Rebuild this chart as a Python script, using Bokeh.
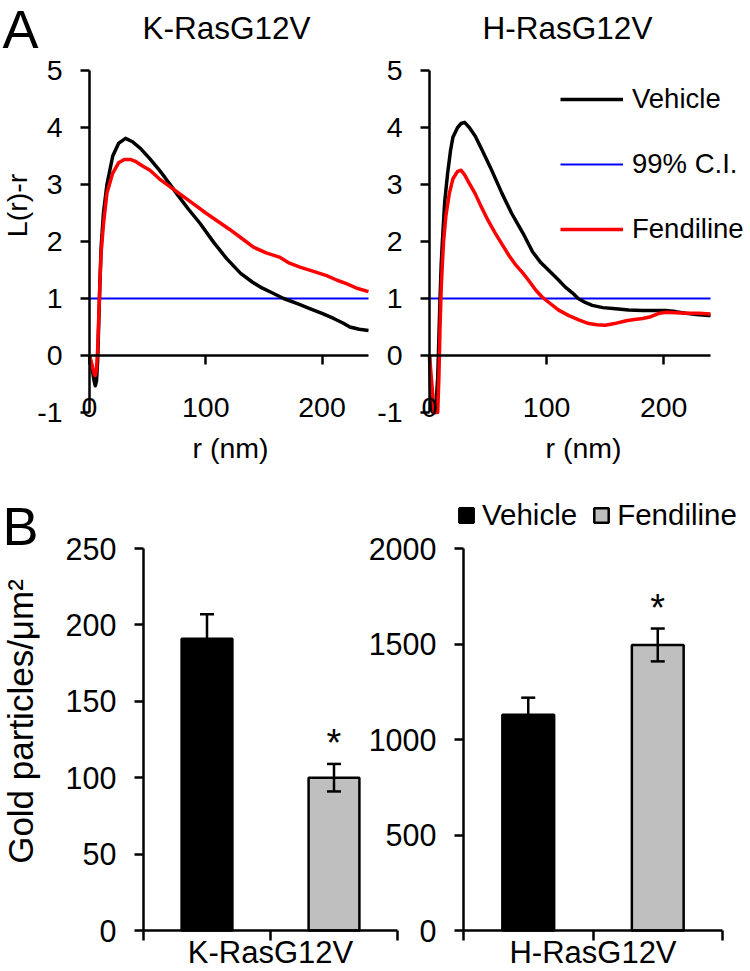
import math
from bokeh.plotting import figure
from bokeh.models import (Range1d, LinearAxis, FixedTicker, Label, Legend, LegendItem,
                          Whisker, ColumnDataSource, TeeHead)
from bokeh.layouts import column, row
from bokeh.embed import file_html
from bokeh.resources import INLINE
from bokeh.core.properties import value

# ---------------- Panel A data: L(r)-r curves ----------------
k_veh_r = [0, 2, 4, 5, 6, 7, 8, 9, 10, 12, 15, 20, 25, 31, 37, 44, 52, 59, 65, 70,
           75, 85, 95, 107, 118, 130, 140, 147, 157, 167, 180, 190, 200, 210, 218, 224, 232, 240]
k_veh_L = [0, -0.2, -0.45, -0.53, -0.45, -0.1, 0.6, 1.3, 1.9, 2.5, 3.0, 3.5, 3.72, 3.81, 3.75, 3.63, 3.45, 3.28, 3.12, 2.98,
           2.84, 2.57, 2.32, 1.98, 1.7, 1.44, 1.29, 1.2, 1.1, 1.0, 0.9, 0.82, 0.74, 0.65, 0.57, 0.5, 0.46, 0.44]

k_fen_r = [0, 2, 4, 5, 6, 7, 8, 9, 10, 12, 15, 20, 25, 30, 35, 40, 46, 52, 60, 70,
           80, 90, 100, 110, 120, 130, 141, 152, 164, 172, 181, 192, 204, 213, 221, 230, 240]
k_fen_L = [0, -0.15, -0.32, -0.35, -0.25, 0.1, 0.7, 1.3, 1.8, 2.3, 2.85, 3.2, 3.38, 3.44, 3.44, 3.4, 3.32, 3.25, 3.1, 2.95,
           2.8, 2.65, 2.5, 2.36, 2.22, 2.07, 1.9, 1.8, 1.72, 1.62, 1.55, 1.48, 1.4, 1.32, 1.26, 1.18, 1.12]

h_veh_r = [0, 1, 2, 3, 5, 7, 8, 9, 10, 11, 13, 15.5, 18, 20, 24, 27, 30, 34, 39, 45,
           52, 62, 70, 80, 88, 95, 102, 110, 116, 122, 127, 133, 139, 148, 159, 170, 182, 192, 202, 210,
           219, 228, 238, 240]
h_veh_L = [0, -0.6, -0.95, -1.0, -1.0, -0.4, 0.3, 1.0, 1.6, 2.0, 2.7, 3.2, 3.6, 3.83, 4.0, 4.07, 4.09, 4.0, 3.85, 3.6,
           3.3, 2.84, 2.5, 2.14, 1.82, 1.63, 1.49, 1.33, 1.2, 1.1, 1.0, 0.93, 0.88, 0.84, 0.82, 0.8, 0.79, 0.79, 0.79, 0.77,
           0.74, 0.72, 0.7, 0.7]

h_fen_r = [0, 2, 4, 7, 8, 9, 10, 12, 14, 17, 20, 24, 27, 30, 34, 39, 44, 50, 56, 62,
           68, 74, 80, 86, 91, 96, 102, 110, 119, 128, 136, 143, 150, 158, 168, 175, 182, 189, 196, 203,
           210, 220, 230, 240]
h_fen_L = [0, -0.5, -1.0, -1.0, -0.4, 0.5, 1.2, 2.0, 2.45, 2.85, 3.1, 3.23, 3.25, 3.17, 3.02, 2.84, 2.62, 2.37, 2.15, 1.95,
           1.75, 1.58, 1.44, 1.28, 1.14, 1.03, 0.93, 0.8, 0.7, 0.62, 0.56, 0.54, 0.53, 0.56, 0.61, 0.63, 0.65, 0.68, 0.74, 0.76,
           0.75, 0.74, 0.74, 0.73]

ci_level = 1.0
r_min, r_max = 0, 240
a_y_min, a_y_max = -1, 5
a_y_ticks = [-1, 0, 1, 2, 3, 4, 5]
a_x_ticks = [0, 100, 200]
series_labels = ["Vehicle", "99% C.I.", "Fendiline"]

# ---------------- Panel B data: gold particle density ----------------
treatments = ["Vehicle", "Fendiline"]
constructs = ["K-RasG12V", "H-RasG12V"]
k_density = [191, 100]
k_sem = [16, 9]
h_density = [1130, 1495]
h_sem = [89, 86]
k_signif = [False, True]
h_signif = [False, True]
k_ticks = [0, 50, 100, 150, 200, 250]
h_ticks = [0, 500, 1000, 1500, 2000]

# ---------------- styling helpers ----------------
FONT = "Liberation Sans"
s = 1.0


def S(v):
    return int(round(v * s))


def F(v):
    return f"{v * s:.1f}px"


AXW = 2.5
BLACK = "black"
RED = "#ff0000"
BLUE = "#0000ff"
GRAY = "#bfbfbf"


def style_axis(ax, size, standoff, tick_out):
    ax.axis_line_color = BLACK
    ax.axis_line_width = AXW
    ax.major_tick_line_color = BLACK
    ax.major_tick_line_width = AXW
    ax.major_tick_out = S(tick_out)
    ax.major_tick_in = 0
    ax.minor_tick_line_color = None
    ax.major_label_text_font = FONT
    ax.major_label_text_font_size = F(size)
    ax.major_label_text_color = BLACK
    ax.major_label_standoff = S(standoff) if standoff >= 0 else -S(-standoff)


def span_range(dmin, dmax, pmin, pmax, fig_len):
    """Range whose [dmin, dmax] lands on pixels [pmin, pmax] of a canvas fig_len long."""
    k = (pmax - pmin) / (dmax - dmin)
    return Range1d(dmin - pmin / k, dmax + (fig_len - pmax) / k)


def make_fig(w, h, xr, yr):
    p = figure(width=S(w), height=S(h), x_range=xr, y_range=yr, title=None,
               x_axis_location=None, y_axis_location=None,
               output_backend="svg", toolbar_location=None,
               min_border_left=0, min_border_right=0, min_border_top=0, min_border_bottom=0)
    p.outline_line_color = None
    p.grid.visible = False
    p.background_fill_color = "white"
    p.border_fill_color = "white"
    return p


def add_label(p, text, x, y, size, align="left", angle=0.0, baseline="alphabetic"):
    if baseline == "alphabetic":
        y = y + 0.4 * size   # renderer drops alphabetic-anchored text by ~0.4 em
    p.add_layout(Label(x=S(x), y=S(y), x_units="screen", y_units="screen", text=text,
                       text_font=FONT, text_font_size=F(size), text_color=BLACK,
                       text_align=align, text_baseline=baseline, angle=angle))


# ---------------- Panel A ----------------
TOP_H = 470          # reference px
A_TOP, A_BOT = 70, 412


def panel_a(x0, w, fl, fr, title, title_x, veh_r, veh_L, fen_r, fen_L, rnm_x):
    xr = span_range(r_min, r_max, fl - x0, fr - x0, w)
    yr = span_range(a_y_min, a_y_max, TOP_H - A_BOT, TOP_H - A_TOP, TOP_H)
    p = make_fig(w, TOP_H, xr, yr)

    r_ci = p.line([r_min, r_max], [ci_level, ci_level], line_color=BLUE, line_width=2)
    r_v = p.line(veh_r, veh_L, line_color=BLACK, line_width=3.5, line_join="round")
    r_f = p.line(fen_r, fen_L, line_color=RED, line_width=3.5, line_join="round")

    yax = LinearAxis(fixed_location=r_min, bounds=(a_y_min, a_y_max), ticker=FixedTicker(ticks=a_y_ticks),
                     major_label_overrides={t: str(t) for t in a_y_ticks})
    style_axis(yax, 28.5, 18, 9)
    p.add_layout(yax, "left")

    zero_ax = LinearAxis(fixed_location=0, bounds=(r_min, r_max), ticker=FixedTicker(ticks=a_x_ticks))
    style_axis(zero_ax, 28.5, 0, 9)
    zero_ax.major_label_text_color = None
    p.add_layout(zero_ax, "below")

    lab_ax = LinearAxis(fixed_location=a_y_min, bounds=(r_min, r_max), ticker=FixedTicker(ticks=a_x_ticks))
    style_axis(lab_ax, 28.5, -15, 0)
    lab_ax.axis_line_color = None
    lab_ax.major_tick_line_color = None
    p.add_layout(lab_ax, "below")

    add_label(p, title, title_x - x0, TOP_H - 40, 31.5, align="center")
    add_label(p, "r (nm)", rnm_x - x0, TOP_H - 458, 28.5, align="center")
    return p, (r_v, r_ci, r_f)


p1, _ = panel_a(0, 375, 89, 368, constructs[0], 226, k_veh_r, k_veh_L, k_fen_r, k_fen_L, 230)
p2, (rv2, rci2, rf2) = panel_a(375, 375, 429, 710, constructs[1], 567.5, h_veh_r, h_veh_L, h_fen_r, h_fen_L, 583)

add_label(p1, "A", 2, TOP_H - 50, 54)
add_label(p1, "L(r)-r", 16, TOP_H - 205, 28.5, align="center", angle=math.pi / 2, baseline="middle")

leg_a = Legend(items=[LegendItem(label=series_labels[0], renderers=[rv2]),
                      LegendItem(label=series_labels[1], renderers=[rci2]),
                      LegendItem(label=series_labels[2], renderers=[rf2])],
               location=(S(560 - 375), S(TOP_H - 245)), orientation="vertical",
               glyph_width=S(63), glyph_height=S(32), label_height=S(32), spacing=S(33),
               label_standoff=S(9), padding=0, margin=0,
               border_line_color=None, background_fill_alpha=0,
               label_text_font=FONT, label_text_font_size=F(27.5), label_text_color=BLACK)
p2.add_layout(leg_a, "center")

# ---------------- Panel B: one canvas, two sub-panels via extra ranges ----------------
B_Y0, B_H = 470, 501      # reference px: top of this figure and its height
B_W = 750
K_L, K_R = 143, 397       # K-Ras sub-panel x extent
H_L, H_R = 463, 722       # H-Ras sub-panel x extent
B_TOP, B_BOT = 548, 930
n = len(treatments)

yb = (B_Y0 + B_H - B_BOT, B_Y0 + B_H - B_TOP)
pb = make_fig(B_W, B_H, span_range(0, n, K_L, K_R, B_W),
              span_range(k_ticks[0], k_ticks[-1], yb[0], yb[1], B_H))
pb.extra_x_ranges = {"h": span_range(0, n, H_L, H_R, B_W)}
pb.extra_y_ranges = {"h": span_range(h_ticks[0], h_ticks[-1], yb[0], yb[1], B_H)}

xpos = [i + 0.5 for i in range(n)]
colors = [BLACK, GRAY]
bar_w = 0.4

legend_renderers = []
for dens, sem, sig, rng in [(k_density, k_sem, k_signif, "default"), (h_density, h_sem, h_signif, "h")]:
    for i in range(n):
        r = pb.vbar(x=[xpos[i]], top=[dens[i]], bottom=0, width=bar_w,
                    fill_color=colors[i], line_color=BLACK, line_width=2.5,
                    x_range_name=rng, y_range_name=rng)
        if rng == "default":
            legend_renderers.append(r)
    src = ColumnDataSource(dict(x=xpos, lower=[d - e for d, e in zip(dens, sem)],
                                upper=[d + e for d, e in zip(dens, sem)]))
    w = Whisker(source=src, base="x", lower="lower", upper="upper",
                line_color=BLACK, line_width=2.5, level="overlay",
                upper_head=TeeHead(size=S(14), line_color=BLACK, line_width=2.5),
                lower_head=TeeHead(size=S(14), line_color=BLACK, line_width=2.5),
                x_range_name=rng, y_range_name=rng)
    pb.add_layout(w)
    sx = [xpos[i] for i in range(n) if sig[i]]
    sy = [dens[i] + sem[i] for i in range(n) if sig[i]]
    pb.text(x=sx, y=sy, text=["*"] * len(sx), text_font=value(FONT), text_font_size=F(38),
            text_align="center", text_baseline="alphabetic", y_offset=-S(21), text_color=BLACK,
            x_range_name=rng, y_range_name=rng)

for ticks, rng in [(k_ticks, "default"), (h_ticks, "h")]:
    ax = LinearAxis(x_range_name=rng, y_range_name=rng, fixed_location=0,
                    bounds=(ticks[0], ticks[-1]), ticker=FixedTicker(ticks=ticks))
    style_axis(ax, 30.5, 18, 9)
    pb.add_layout(ax, "left")

for name, rng in [(constructs[0], "default"), (constructs[1], "h")]:
    ax = LinearAxis(x_range_name=rng, y_range_name=rng, fixed_location=0, bounds=(0, n),
                    ticker=FixedTicker(ticks=list(range(n + 1))),
                    major_label_overrides={i: (name if i == n // 2 else "") for i in range(n + 1)})
    style_axis(ax, 31, -6, 10)
    pb.add_layout(ax, "below")

add_label(pb, "B", 2, B_Y0 + B_H - 547, 54)
add_label(pb, "Gold particles/μm²", 20, B_Y0 + B_H - 721, 35, align="center",
          angle=math.pi / 2, baseline="middle")

leg_b = Legend(items=[LegendItem(label=treatments[i], renderers=[legend_renderers[i]]) for i in range(n)],
               location=(S(457), S(B_Y0 + B_H - 532)), orientation="horizontal",
               glyph_width=S(18), glyph_height=S(18), label_height=S(18), spacing=S(15),
               label_standoff=S(7), padding=0, margin=0,
               border_line_color=None, background_fill_alpha=0,
               label_text_font=FONT, label_text_font_size=F(29.5), label_text_color=BLACK)
pb.add_layout(leg_b, "center")

layout = column(row(p1, p2), pb)
open("out.html", "w").write(file_html(layout, INLINE))
